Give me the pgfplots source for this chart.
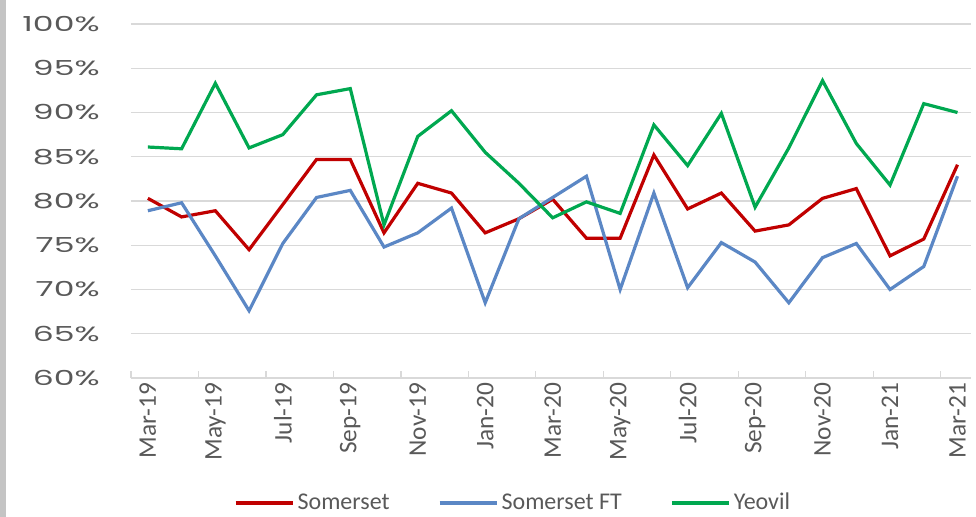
\documentclass[border=0pt]{standalone}
\usepackage{pgfplots}
\pgfplotsset{compat=1.18}
\usepackage{fontspec}
\setmainfont{Carlito}
\newfontfamily\yfont[FakeStretch=1.6]{Poppins}
\definecolor{cRed}{HTML}{C00000}
\definecolor{cBlue}{HTML}{5B87C5}
\definecolor{cGreen}{HTML}{00A850}
\definecolor{cGrid}{HTML}{D9D9D9}
\definecolor{cText}{HTML}{595959}
\definecolor{cEdge}{HTML}{C4C4C4}
\begin{document}
\begin{tikzpicture}
\path[use as bounding box] ({-131*0.75pt},{-139*0.75pt}) rectangle ({845*0.75pt},{378*0.75pt});
\fill[cEdge] ({-131*0.75pt},{-139*0.75pt}) rectangle ({-125*0.75pt},{378*0.75pt});
\begin{axis}[
  at={(0,0)}, anchor=south west, scale only axis,
  width=630pt, height=265.5pt,
  xmin=-0.5, xmax=24.4, ymin=60, ymax=100,
  axis x line*=bottom, axis y line*=left,
  x axis line style={cGrid, line width=1pt, -},
  y axis line style={draw=none},
  ytick={60,65,...,100},
  yticklabel={\yfont\pgfmathprintnumber[assume math mode=true]{\tick}\%},
  yticklabel style={font=\yfont\fontsize{15.5}{16}\selectfont, color=cText, xshift=-20pt},
  ymajorgrids, grid style={cGrid, line width=1pt},
  major y tick style={draw=none},
  xtick={0,2,...,24},
  xticklabels={Mar-19,May-19,Jul-19,Sep-19,Nov-19,Jan-20,Mar-20,May-20,Jul-20,Sep-20,Nov-20,Jan-21,Mar-21},
  xticklabel style={rotate=90, anchor=east, font=\fontsize{19}{19}\selectfont, color=cText},
  major x tick style={draw=none},
  minor xtick={-0.5,1.5,...,23.5},
  minor x tick style={cGrid, line width=1pt},
  minor tick length=5pt,
  clip=false,
  legend columns=3,
  legend style={at={(0.455,-0.352)}, anchor=center, draw=none, fill=none,
    font=\fontsize{18}{18}\selectfont, text=cText,
    /tikz/every even column/.append style={column sep=34pt}},
  legend image code/.code={\draw[#1, line width=3pt] (0pt,0pt) -- (43pt,0pt);},
]
\addplot[cRed, line width=2.4pt] coordinates {
(0,80.3) (1,78.2) (2,78.9) (3,74.5) (4,79.6) (5,84.7) (6,84.7) (7,76.4) (8,82.0) (9,80.9)
(10,76.4) (11,78.0) (12,80.2) (13,75.8) (14,75.8) (15,85.2) (16,79.1) (17,80.9) (18,76.6)
(19,77.3) (20,80.3) (21,81.4) (22,73.8) (23,75.7) (24,84.1)};
\addlegendentry{Somerset}
\addplot[cBlue, line width=2.4pt] coordinates {
(0,78.9) (1,79.8) (2,73.8) (3,67.6) (4,75.2) (5,80.4) (6,81.2) (7,74.8) (8,76.4) (9,79.2)
(10,68.5) (11,78.0) (12,80.4) (13,82.8) (14,70.0) (15,80.9) (16,70.2) (17,75.3) (18,73.1)
(19,68.5) (20,73.6) (21,75.2) (22,70.0) (23,72.6) (24,82.8)};
\addlegendentry{Somerset FT}
\addplot[cGreen, line width=2.4pt] coordinates {
(0,86.1) (1,85.9) (2,93.3) (3,86.0) (4,87.5) (5,92.0) (6,92.7) (7,77.3) (8,87.3) (9,90.2)
(10,85.5) (11,82.0) (12,78.1) (13,79.9) (14,78.6) (15,88.6) (16,84.0) (17,89.9) (18,79.3)
(19,86.0) (20,93.6) (21,86.5) (22,81.8) (23,91.0) (24,90.0)};
\addlegendentry{Yeovil}
\end{axis}
\end{tikzpicture}
\end{document}
